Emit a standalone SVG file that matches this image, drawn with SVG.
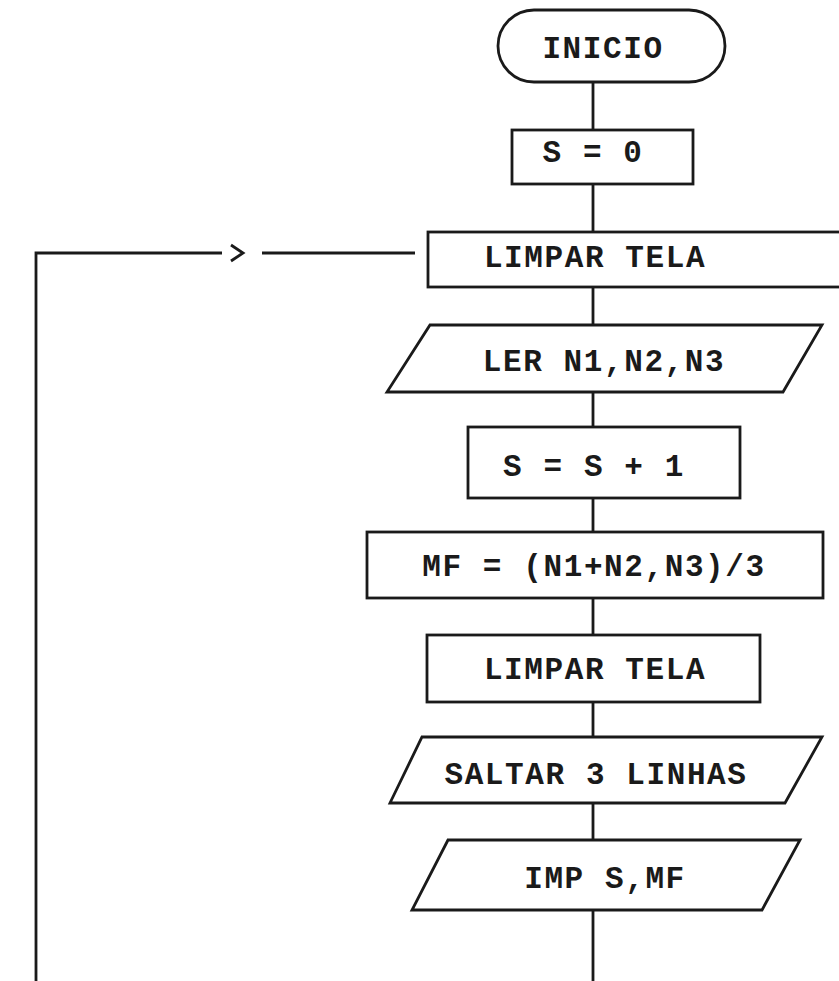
<svg xmlns="http://www.w3.org/2000/svg" width="839" height="981" viewBox="0 0 839 981">
<style>
.shape{fill:none;stroke:#1a1a1a;stroke-width:2.8}
.line{fill:none;stroke:#1a1a1a;stroke-width:2.8}
text{font-family:"Liberation Mono","DejaVu Sans Mono",monospace;font-weight:bold;font-size:31px;letter-spacing:1.6px;fill:#1a1a1a;text-anchor:middle}
</style>
<rect width="839" height="981" fill="#ffffff"/>
<g id="connectors">
<path class="line" d="M593,82V130M593,184V232M593,287V325M593,392V427M593,498V532M593,598V635M593,702V737M593,803V840M593,910V981"/>
<path class="line" d="M36,981V253H222M262,253H415"/>
<path class="line" d="M231,245L243,253L231,261"/>
</g>
<g id="inicio">
<rect class="shape" x="498" y="10" width="227" height="72" rx="36" ry="36"/>
<text x="603" y="58">INICIO</text>
</g>
<g id="s0">
<rect class="shape" x="512" y="130" width="181" height="54"/>
<text x="593" y="162">S = 0</text>
</g>
<g id="limpar1">
<rect class="shape" x="428" y="232" width="430" height="55"/>
<text x="595" y="267">LIMPAR TELA</text>
</g>
<g id="ler">
<polygon class="shape" points="430,325 822,325 783,392 387,392"/>
<text x="604" y="371">LER N1,N2,N3</text>
</g>
<g id="sinc">
<rect class="shape" x="468" y="427" width="272" height="71"/>
<text x="594" y="476">S = S + 1</text>
</g>
<g id="mf">
<rect class="shape" x="367" y="532" width="456" height="66"/>
<text x="594" y="576">MF = (N1+N2,N3)/3</text>
</g>
<g id="limpar2">
<rect class="shape" x="427" y="635" width="333" height="67"/>
<text x="595" y="679">LIMPAR TELA</text>
</g>
<g id="saltar">
<polygon class="shape" points="422,737 822,737 785,803 390,803"/>
<text x="596" y="784">SALTAR 3 LINHAS</text>
</g>
<g id="imp">
<polygon class="shape" points="448,840 800,840 762,910 412,910"/>
<text x="605" y="888">IMP S,MF</text>
</g>
</svg>
